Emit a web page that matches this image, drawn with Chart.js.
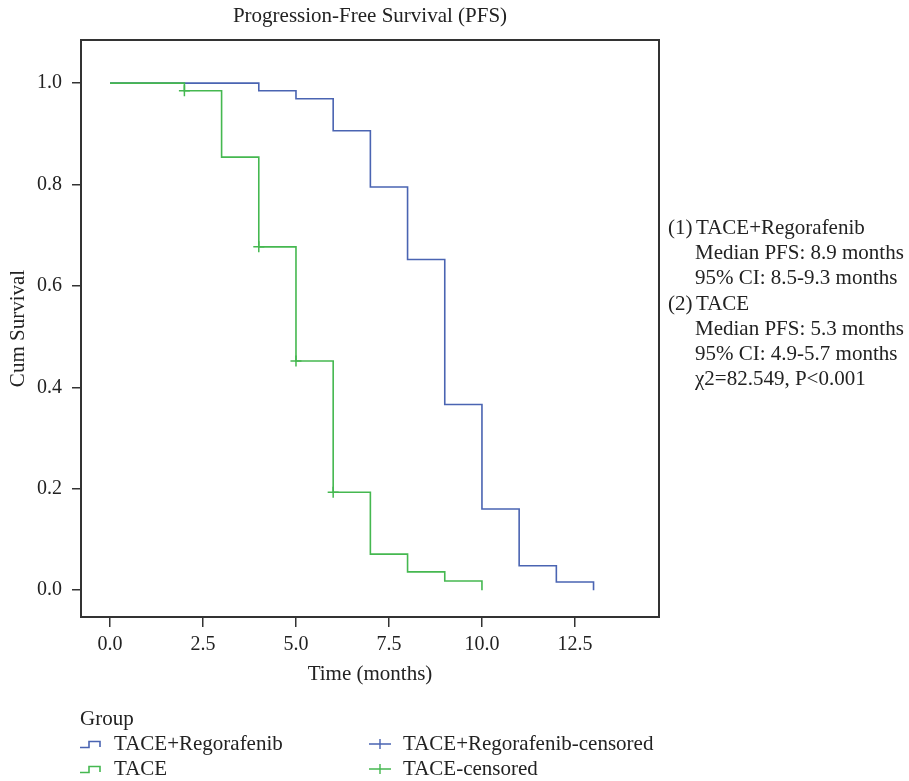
<!DOCTYPE html>
<html>
<head>
<meta charset="utf-8">
<script src="https://cdn.jsdelivr.net/npm/chart.js@4"></script>
<style>
  body { margin: 0; background: #fff; }
  #wrap { position: relative; width: 909px; height: 781px; font-family: "Liberation Serif", "DejaVu Serif", serif; color: #222; }
  #chart { position: absolute; left: 0; top: 0; }
  #notes { position: absolute; left: 668px; top: 215px; font-size: 21px; line-height: 25.2px; white-space: nowrap; }
  #notes .num { display: inline-block; width: 28px; }
  #notes .ind { padding-left: 27px; }
  #legend { position: absolute; left: 80px; top: 706px; font-size: 21px; line-height: 25px; white-space: nowrap; }
  #legend .row { display: flex; }
  #legend .item { display: flex; align-items: center; }
  #legend .col1 { width: 289px; }
  #legend svg { margin-right: 12px; }
</style>
</head>
<body>
<div id="wrap">
  <canvas id="chart" width="909" height="781"></canvas>
  <div id="notes">
    <div><span class="num">(1)</span>TACE+Regorafenib</div>
    <div class="ind">Median PFS: 8.9 months</div>
    <div class="ind">95% CI: 8.5-9.3 months</div>
    <div><span class="num">(2)</span>TACE</div>
    <div class="ind">Median PFS: 5.3 months</div>
    <div class="ind">95% CI: 4.9-5.7 months</div>
    <div class="ind">χ2=82.549, P&lt;0.001</div>
  </div>
  <div id="legend">
    <div>Group</div>
    <div class="row">
      <div class="item col1"><svg width="22" height="10"><path d="M0 8.5 H9 V2.5 H20 V8" fill="none" stroke="#4a64b2" stroke-width="1.6"/></svg>TACE+Regorafenib</div>
      <div class="item"><svg width="22" height="12"><path d="M0 6 H22 M11 1 V11" fill="none" stroke="#4a64b2" stroke-width="1.4"/></svg>TACE+Regorafenib-censored</div>
    </div>
    <div class="row">
      <div class="item col1"><svg width="22" height="10"><path d="M0 8.5 H9 V2.5 H20 V8" fill="none" stroke="#45b850" stroke-width="1.6"/></svg>TACE</div>
      <div class="item"><svg width="22" height="12"><path d="M0 6 H22 M11 1 V11" fill="none" stroke="#45b850" stroke-width="1.4"/></svg>TACE-censored</div>
    </div>
  </div>
</div>
<script>
// survival curves (time in months, cumulative survival after each step)
const comboTimes = [0, 4, 5, 6, 7, 8, 9, 10, 11, 12, 13];
const comboSurv = [1.0, 0.985, 0.969, 0.906, 0.795, 0.652, 0.366, 0.160, 0.048, 0.016, 0.0];
const taceTimes = [0, 2, 3, 4, 5, 6, 7, 8, 9, 10];
const taceSurv = [1.0, 0.985, 0.854, 0.677, 0.452, 0.193, 0.071, 0.036, 0.018, 0.0];
// censored marks
const taceCensTimes = [2, 4, 5, 6];
const taceCensSurv = [0.985, 0.677, 0.452, 0.193];
// axis ticks
const xTicks = [0, 2.5, 5, 7.5, 10, 12.5];
const yTicks = [0, 0.2, 0.4, 0.6, 0.8, 1.0];

const blue = '#4a64b2';
const green = '#45b850';
const axisColor = '#333';
const family = "'Liberation Serif', 'DejaVu Serif', serif";
const tickFont = { family: family, size: 20 };
const titleFont = { family: family, size: 21 };

const toPoints = (xs, ys) => xs.map((x, i) => ({ x: x, y: ys[i] }));

// frame round the plot + title above it
const framePlugin = {
  id: 'frame',
  afterDraw(chart) {
    const { ctx, chartArea: a } = chart;
    ctx.save();
    ctx.strokeStyle = axisColor;
    ctx.lineWidth = 2;
    ctx.strokeRect(a.left, a.top, a.right - a.left, a.bottom - a.top);
    ctx.fillStyle = '#222';
    ctx.font = titleFont.size + 'px ' + family;
    ctx.textAlign = 'center';
    ctx.textBaseline = 'middle';
    ctx.fillText('Progression-Free Survival (PFS)', (a.left + a.right) / 2, 16);
    ctx.restore();
  }
};

// dataset 0 is drawn on top, so TACE goes first
new Chart(document.getElementById('chart'), {
  type: 'line',
  data: {
    datasets: [
      {
        label: 'TACE-censored',
        data: toPoints(taceCensTimes, taceCensSurv),
        showLine: false,
        pointStyle: 'cross',
        pointRadius: 5.5,
        pointBorderWidth: 1.5,
        borderColor: green
      },
      {
        label: 'TACE',
        data: toPoints(taceTimes, taceSurv),
        borderColor: green,
        borderWidth: 1.6,
        stepped: true,
        pointRadius: 0,
        fill: false
      },
      {
        label: 'TACE+Regorafenib',
        data: toPoints(comboTimes, comboSurv),
        borderColor: blue,
        borderWidth: 1.6,
        stepped: true,
        pointRadius: 0,
        fill: false
      }
    ]
  },
  options: {
    responsive: false,
    animation: false,
    devicePixelRatio: 1,
    layout: { padding: { left: 0, top: 40, right: 250, bottom: 94 } },
    plugins: {
      legend: { display: false },
      tooltip: { enabled: false }
    },
    scales: {
      x: {
        type: 'linear',
        min: -0.78,
        max: 14.76,
        afterBuildTicks: (scale) => { scale.ticks = xTicks.map(v => ({ value: v })); },
        afterFit: (scale) => { scale.height = 70; },
        ticks: { font: tickFont, color: '#222', padding: 6, maxRotation: 0, callback: v => v.toFixed(1) },
        grid: { drawOnChartArea: false, drawTicks: true, tickLength: 10, color: axisColor, lineWidth: 1.5 },
        border: { display: false },
        title: { display: true, text: 'Time (months)', font: titleFont, color: '#222', padding: { top: 0, bottom: 0 } }
      },
      y: {
        type: 'linear',
        min: -0.053,
        max: 1.085,
        afterBuildTicks: (scale) => { scale.ticks = yTicks.map(v => ({ value: v })); },
        afterFit: (scale) => { scale.width = 81; },
        ticks: { font: tickFont, color: '#222', padding: 10, callback: v => v.toFixed(1) },
        grid: { drawOnChartArea: false, drawTicks: true, tickLength: 9, color: axisColor, lineWidth: 1.5 },
        border: { display: false },
        title: { display: true, text: 'Cum Survival', font: titleFont, color: '#222', padding: { top: 6, bottom: 0 } }
      }
    }
  },
  plugins: [framePlugin]
});
</script>
</body>
</html>
